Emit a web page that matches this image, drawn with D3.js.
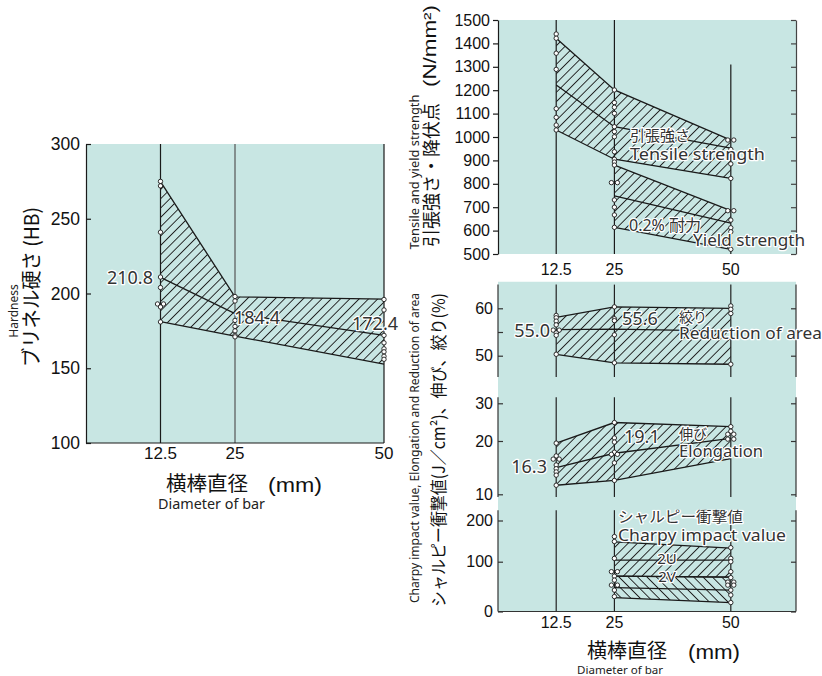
<!DOCTYPE html>
<html><head><meta charset="utf-8">
<script src="https://cdn.jsdelivr.net/npm/d3@7"></script>
<style>body{margin:0;background:#fff}svg{display:block}</style>
</head><body>
<svg id="c" width="822" height="676"></svg>
<script>
// ---------------- data ----------------
const diameters = [12.5, 25, 50];
const diameterLabels = ["12.5", "25", "50"];

const hardnessTicks = [100, 150, 200, 250, 300];
const hardnessUpper = [274.8, 197.8, 196.3];
const hardnessMean = [210.8, 186.5, 172.0];
const hardnessLower = [181.2, 171.5, 152.8];
const hardnessPoints = [[275, 272, 241, 211, 204, 193, 193, 191, 181], [198, 195, 182, 178, 175, 172, 171], [196, 189, 172, 167, 163, 161, 158, 156]];
const hardnessNotes = ["210.8", "184.4", "172.4"];

const tensileTicks = [500, 600, 700, 800, 900, 1000, 1100, 1200, 1300, 1400, 1500];
const tensileUpper = [1422, 1201, 987];
const tensileMean = [1222, 1044, 952];
const tensileLower = [1030, 905, 823];
const tensilePoints = [[1440, 1422, 1358, 1289, 1121, 1084, 1051, 1030], [1201, 1147, 1127, 1101, 1044, 1023, 1001, 937, 905], [987, 987, 947, 885, 823]];
const yieldDiameters = [25, 50];
const yieldUpper = [880, 685];
const yieldMean = [748, 632];
const yieldLower = [614, 520];
const yieldPoints = [[893, 880, 805, 805, 731, 700, 667, 614], [685, 685, 645, 612, 595, 520]];

const reductionTicks = [50, 55, 60];
const reductionUpper = [58.1, 60.3, 60.0];
const reductionMean = [55.5, 55.6, 55.2];
const reductionLower = [50.3, 48.5, 48.2];
const reductionPoints = [[58.5, 58.0, 57.3, 56.5, 55.4, 55.4, 54.8, 54.3, 50.3], [60.3, 57.8, 57.4, 54.4, 48.5], [60.5, 59.8, 58.9, 48.2]];
const reductionNotes = ["55.0", "55.6"];

const elongationTicks = [10, 20, 30];
const elongationUpper = [19.6, 24.9, 23.8];
const elongationMean = [15.0, 17.7, 20.7];
const elongationLower = [11.7, 12.6, 16.7];
const elongationPoints = [[19.6, 17.2, 16.6, 16.6, 15.5, 14.8, 14.2, 13.6, 11.7], [24.9, 20.8, 19.8, 17.9, 17.5, 17.5, 15.9, 12.6], [23.8, 22.6, 21.8, 21.8, 20.5, 20.5]];
const elongationNotes = ["16.3", "19.1"];

const charpyTicks = [0, 100, 200];
const charpyDiameters = [25, 50];
const charpy2UUpper = [148, 133];
const charpy2UMean = [104, 104];
const charpy2ULower = [71, 69];
const charpy2VUpper = [71, 69];
const charpy2VMean = [48, 43];
const charpy2VLower = [28, 18];
const charpyPoints = [[161, 149, 108, 80, 80, 71, 63, 53, 53, 43, 30], [134, 108, 100, 80, 68, 59, 59, 53, 53, 43, 33, 18]];

// ---------------- drawing ----------------
const TEAL = "#c8e6e3";
const INK = "#1a1a1a";
const NUM = "'Liberation Sans', Arial, sans-serif";
const ANN = "'Noto Sans', 'Noto Sans CJK JP', sans-serif";
const JP = "'Noto Sans CJK JP', 'Noto Sans', sans-serif";

const svg = d3.select("#c");
const defs = svg.append("defs");
function hatch(id, angle) {
  const s = 6.6;
  const p = defs.append("pattern").attr("id", id).attr("patternUnits", "userSpaceOnUse")
    .attr("width", s).attr("height", s).attr("patternTransform", `rotate(${angle})`);
  p.append("line").attr("x1", s / 2).attr("y1", -1).attr("x2", s / 2).attr("y2", s + 1)
    .attr("stroke", "#222").attr("stroke-width", 0.95);
}
hatch("hf", 45);
hatch("hb", -45);

const xL = d3.scaleLinear([0, 50], [86, 384]);
const yL = d3.scaleLinear([100, 300], [443, 144]);
const xR = d3.scaleLinear([0, 64], [498, 796]);
const yT = d3.scaleLinear([500, 1500], [254, 20]);
const yA = d3.scaleLinear([50, 60], [355.7, 308.3]);
const yE = d3.scaleLinear([10, 20, 30], [494.3, 441, 403.3]);
const yC = d3.scaleLinear([0, 100, 200], [611.5, 561.7, 520.5]);

const bg = svg.append("g");
bg.append("rect").attr("x", xL(0)).attr("y", yL(300)).attr("width", xL(50) - xL(0)).attr("height", yL(100) - yL(300)).attr("fill", TEAL);
bg.append("rect").attr("x", xR(0)).attr("y", yT(1500)).attr("width", xR(64) - xR(0)).attr("height", yT(500) - yT(1500)).attr("fill", TEAL);
bg.append("rect").attr("x", xR(0)).attr("y", yA(65.6)).attr("width", xR(64) - xR(0)).attr("height", yC(0) - yA(65.6)).attr("fill", TEAL);

function band(g, xs, ys, ds, upper, mean, lower, points, pat) {
  const idx = ds.map((d, i) => i);
  g.append("path").datum(idx)
    .attr("d", d3.area().x(i => xs(ds[i])).y0(i => ys(lower[i])).y1(i => ys(upper[i])))
    .attr("fill", `url(#${pat})`);
  [upper, mean, lower].forEach(arr => {
    g.append("path").datum(idx)
      .attr("d", d3.line().x(i => xs(ds[i])).y(i => ys(arr[i])))
      .attr("fill", "none").attr("stroke", INK).attr("stroke-width", 1.3);
  });
  points.forEach((col, ci) => {
    const pts = col.map((v, k) => {
      const same = col.filter(w => w === v).length;
      const order = col.slice(0, k).filter(w => w === v).length;
      return { v, dx: same > 1 ? (order === 0 ? -3 : 3) : 0 };
    });
    g.selectAll(null).data(pts).enter().append("circle")
      .attr("cx", d => xs(ds[ci]) + d.dx).attr("cy", d => ys(d.v)).attr("r", 2.2)
      .attr("fill", "#fff").attr("stroke", INK).attr("stroke-width", 0.9);
  });
}

function txt(x, y, t, size, family, opts = {}) {
  const e = svg.append("text").attr("x", x).attr("y", y).text(t)
    .attr("font-size", size).attr("font-family", family)
    .attr("fill", opts.fill || "#111")
    .attr("text-anchor", opts.anchor || "start");
  if (opts.halo) e.attr("stroke", "#fff").attr("stroke-width", 2.6).attr("paint-order", "stroke").attr("stroke-linejoin", "round");
  if (opts.len) e.attr("textLength", opts.len).attr("lengthAdjust", "spacingAndGlyphs");
  if (opts.rot) e.attr("transform", `rotate(-90,${x},${y})`).attr("dominant-baseline", "central").attr("text-anchor", "middle");
  return e;
}

// ===== Left chart: hardness =====
const gL = svg.append("g");
diameters.forEach((d, i) => {
  gL.append("line").attr("x1", xL(d)).attr("x2", xL(d)).attr("y1", yL(300)).attr("y2", yL(100))
    .attr("stroke", i === 1 ? "#555" : INK).attr("stroke-width", 1.2);
});
band(gL, xL, yL, diameters, hardnessUpper, hardnessMean, hardnessLower, hardnessPoints, "hf");
const axL = gL.append("g").attr("transform", `translate(${xL(0)},0)`)
  .call(d3.axisLeft(yL).tickValues(hardnessTicks).tickSizeInner(-5).tickSizeOuter(0).tickPadding(6).tickFormat(d3.format("d")));
axL.select(".domain").attr("stroke", INK).attr("stroke-width", 1.2);
axL.selectAll(".tick line").attr("stroke", INK).attr("stroke-width", 1.2);
axL.selectAll(".tick text").attr("font-size", 17.5).attr("font-family", NUM).attr("fill", "#111");
gL.append("line").attr("x1", xL(0)).attr("x2", xL(50)).attr("y1", yL(100)).attr("y2", yL(100)).attr("stroke", INK).attr("stroke-width", 1.2);
diameters.forEach((d, i) => txt(xL(d), 459, diameterLabels[i], 17, NUM, { anchor: "middle" }));
txt(153, yL(hardnessMean[0]) + 6.5, hardnessNotes[0], 18, ANN, { anchor: "end", halo: true, fill: "#333" });
txt(234, 324, hardnessNotes[1], 18, ANN, { halo: true, fill: "#333" });
txt(352, 329.5, hardnessNotes[2], 18, ANN, { halo: true, fill: "#333" });
txt(13, 311, "Hardness", 12, ANN, { rot: true, fill: "#222" });
txt(30, 287, "ブリネル硬さ (HB)", 20, JP, { rot: true, len: 160 });
txt(166, 491, "横棒直径", 20, JP, { len: 82 });
txt(268, 492, "(mm)", 21, NUM, { len: 54 });
txt(158, 509, "Diameter of bar", 13.5, ANN, { len: 107, fill: "#222" });

// ===== Right top: tensile / yield =====
const gT = svg.append("g");
diameters.forEach((d, i) => {
  gT.append("line").attr("x1", xR(d)).attr("x2", xR(d)).attr("y1", yT(i === 2 ? 1310 : 1500)).attr("y2", yT(500))
    .attr("stroke", INK).attr("stroke-width", 1.2);
});
band(gT, xR, yT, diameters, tensileUpper, tensileMean, tensileLower, tensilePoints, "hf");
band(gT, xR, yT, yieldDiameters, yieldUpper, yieldMean, yieldLower, yieldPoints, "hf");
const axT = gT.append("g").attr("transform", `translate(${xR(0)},0)`)
  .call(d3.axisLeft(yT).tickValues(tensileTicks).tickSizeInner(5).tickSizeOuter(0).tickPadding(3).tickFormat(d3.format("d")));
axT.select(".domain").attr("stroke", INK).attr("stroke-width", 1.2);
axT.selectAll(".tick line").attr("stroke", INK).attr("stroke-width", 1.2);
axT.selectAll(".tick text").attr("font-size", 16).attr("font-family", NUM).attr("fill", "#111");
const axT2 = gT.append("g").attr("transform", `translate(${xR(64)},0)`)
  .call(d3.axisRight(yT).tickValues(tensileTicks).tickSizeInner(-5).tickSizeOuter(0).tickFormat(""));
axT2.select(".domain").attr("stroke", "#444").attr("stroke-width", 1.2);
axT2.selectAll(".tick line").attr("stroke", "#444").attr("stroke-width", 1.2);
diameters.forEach((d, i) => txt(xR(d), 275, diameterLabels[i], 16, NUM, { anchor: "middle" }));
txt(630, 141, "引張強さ", 15, JP, { halo: true, fill: "#333" });
txt(630, 160, "Tensile  strength", 17, ANN, { halo: true, fill: "#333", len: 135 });
txt(629, 231, "0.2% 耐力", 16, ANN, { halo: true, fill: "#333" });
txt(693, 246, "Yield strength", 17, ANN, { halo: true, fill: "#333", len: 112 });
txt(414, 172, "Tensile  and yield strength", 12, ANN, { rot: true, len: 155, fill: "#222" });
txt(430, 175, "引張強さ・降伏点", 18, JP, { rot: true, len: 144 });
txt(430, 46, "(N/mm²)", 18, NUM, { rot: true, len: 82 });

// ===== Right lower panels =====
const gB = svg.append("g");
const panels = [
  { ys: yA, top: yA(65.0), bot: yA(45.5), ticks: reductionTicks, labels: [50, 60] },
  { ys: yE, top: yE(31.6), bot: yE(9.5), ticks: elongationTicks, labels: elongationTicks },
  { ys: yC, top: yC(225), bot: yC(0), ticks: charpyTicks, labels: charpyTicks }
];
panels.forEach(p => {
  diameters.forEach(d => {
    gB.append("line").attr("x1", xR(d)).attr("x2", xR(d)).attr("y1", p.top).attr("y2", p.bot)
      .attr("stroke", "#222").attr("stroke-width", 1.2);
  });
  [xR(0), xR(64)].forEach((x, side) => {
    gB.append("line").attr("x1", x).attr("x2", x).attr("y1", p.top).attr("y2", p.bot)
      .attr("stroke", "#333").attr("stroke-width", 1.2);
    const ax = gB.append("g").attr("transform", `translate(${x},0)`)
      .call((side === 0 ? d3.axisLeft(p.ys) : d3.axisRight(p.ys)).tickValues(p.ticks)
        .tickSizeInner(-5).tickSizeOuter(0).tickPadding(5)
        .tickFormat(v => side === 0 && p.labels.includes(v) ? String(v) : ""));
    ax.select(".domain").remove();
    ax.selectAll(".tick line").attr("stroke", "#333").attr("stroke-width", 1.2);
    ax.selectAll(".tick text").attr("font-size", 16).attr("font-family", NUM).attr("fill", "#111");
  });
});
gB.append("line").attr("x1", xR(0)).attr("x2", xR(64)).attr("y1", yC(0)).attr("y2", yC(0)).attr("stroke", "#333").attr("stroke-width", 1.2);

band(gB, xR, yA, diameters, reductionUpper, reductionMean, reductionLower, reductionPoints, "hf");
band(gB, xR, yE, diameters, elongationUpper, elongationMean, elongationLower, elongationPoints, "hf");
band(gB, xR, yC, charpyDiameters, charpy2UUpper, charpy2UMean, charpy2ULower, [], "hf");
band(gB, xR, yC, charpyDiameters, charpy2VUpper, charpy2VMean, charpy2VLower, charpyPoints, "hb");

txt(550, 337, reductionNotes[0], 18, ANN, { anchor: "end", halo: true, fill: "#333" });
txt(622, 325, reductionNotes[1], 18, ANN, { halo: true, fill: "#333" });
txt(679, 322, "絞り", 14, JP, { halo: true, fill: "#333" });
txt(679, 339, "Reduction of area", 17, ANN, { halo: true, fill: "#333", len: 143 });
txt(547, 473, elongationNotes[0], 18, ANN, { anchor: "end", halo: true, fill: "#333" });
txt(624, 443, elongationNotes[1], 18, ANN, { halo: true, fill: "#333" });
txt(679, 439, "伸び", 14, JP, { halo: true, fill: "#333" });
txt(679, 457, "Elongation", 17, ANN, { halo: true, fill: "#333", len: 84 });
txt(618, 522, "シャルピー衝撃値", 15, JP, { halo: true, fill: "#333", len: 125 });
txt(618, 541, "Charpy impact value", 17, ANN, { halo: true, fill: "#333", len: 168 });
txt(667, 564, "2U", 15, ANN, { anchor: "middle", halo: true, fill: "#333" });
txt(667, 582, "2V", 15, ANN, { anchor: "middle", halo: true, fill: "#333" });

diameters.forEach((d, i) => txt(xR(d), 628, diameterLabels[i], 16, NUM, { anchor: "middle" }));
txt(414, 448, "Charpy impact value, Elongation and Reduction of area", 12, ANN, { rot: true, len: 310, fill: "#222" });
txt(437, 450, "シャルピー衝撃値(J／cm²)、伸び、絞り(%)", 17, JP, { rot: true, len: 314 });
txt(587, 657.5, "横棒直径", 20, JP, { len: 80 });
txt(688, 658.5, "(mm)", 21, NUM, { len: 52 });
txt(577, 673.5, "Diameter of bar", 11.5, ANN, { len: 86, fill: "#222" });

// teal between the lower panels, drawn last so nothing covers it
panels.slice(1).forEach((p, i) => {
  svg.append("rect").attr("x", xR(0) + 0.6).attr("y", panels[i].bot + 0.6).attr("width", xR(64) - xR(0) - 1.2)
    .attr("height", p.top - panels[i].bot - 1.2).attr("fill", TEAL);
});
</script>
</body></html>
